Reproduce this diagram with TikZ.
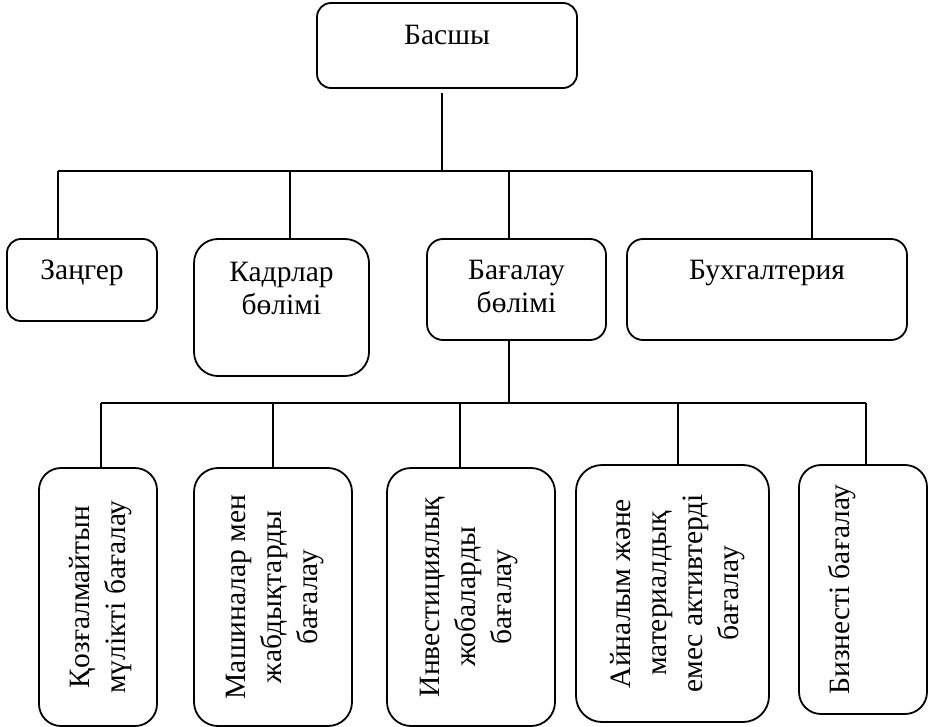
\documentclass[tikz,border=0pt]{standalone}
\usepackage{fontspec}
\setmainfont{Liberation Serif}
\usetikzlibrary{positioning}

\begin{document}
\begin{tikzpicture}[x=1pt, y=-1pt, line width=1.5pt,
		unit/.style={draw, line width=1.8pt, rounded corners=#1, inner sep=0pt},
		unit/.default=14pt,
		htext/.style={inner sep=0pt, align=center, font=\fontsize{29.5}{33}\selectfont},
		vtext/.style={inner sep=0pt, align=center, font=\fontsize{29.5}{36}\selectfont, rotate=90, anchor=north}]
		\useasboundingbox (0,0) rectangle (933,727);

		\node[unit, minimum width=260pt, minimum height=85pt] (head) at (447,45.5) {};
		\node[unit, minimum width=150pt, minimum height=82pt] (lawyer) at (82,280) {};
		\node[unit=24pt, minimum width=175pt, minimum height=137pt] (staff) at (281.5,307.5) {};
		\node[unit=16pt, minimum width=179pt, minimum height=101pt] (appr) at (516.5,289.5) {};
		\node[unit=16pt, minimum width=280pt, minimum height=101pt] (acct) at (767,289.5) {};

		\node[htext, below=22pt of head.north] (headtxt) {Басшы};
		\node[htext, below=21pt of lawyer.north] (lawyertxt) {Заңгер};
		\node[htext, below=23pt of staff.north] (stafftxt) {Кадрлар\\бөлімі};
		\node[htext, below=21pt of appr.north] (apprtxt) {Бағалау\\бөлімі};
		\node[htext, below=21pt of acct.north] (accttxt) {Бухгалтерия};

		\node[unit=22pt, minimum width=118pt, minimum height=258pt] (r1) at (98,597) {};
		\node[unit=24pt, minimum width=158pt, minimum height=258pt] (r2) at (273,597) {};
		\node[unit=24pt, minimum width=168pt, minimum height=258pt] (r3) at (471,597) {};
		\node[unit=26pt, minimum width=193pt, minimum height=257pt] (r4) at (672.5,593.5) {};
		\node[unit=22pt, minimum width=128pt, minimum height=249pt] (r5) at (863,589.5) {};

		\node[vtext] (r1txt) at ([xshift=30pt]r1.west) {Қозғалмайтын\\мүлікті бағалау};
		\node[vtext] (r2txt) at ([xshift=32pt]r2.west) {Машиналар мен\\жабдықтарды\\бағалау};
		\node[vtext] (r3txt) at ([xshift=33pt]r3.west) {Инвестициялық\\жобаларды\\бағалау};
		\node[vtext] (r4txt) at ([xshift=34pt]r4.west) {Айналым және\\материалдық\\емес активтерді\\бағалау};
		\node[vtext] (r5txt) at ([xshift=30pt]r5.west) {Бизнесті бағалау};

		\coordinate (j0) at (442,171);
		\coordinate (j1) at (58,171);
		\coordinate (j2) at (290,171);
		\coordinate (j3) at (509,171);
		\coordinate (j4) at (812,171);

		\draw[shorten <=4pt] (head.south -| j0) -- (j0);
		\draw (j1) -- (j4);
		\draw (j1) -- (j1 |- lawyer.north);
		\draw (j2) -- (j2 |- staff.north);
		\draw (j3) -- (j3 |- appr.north);
		\draw (j4) -- (j4 |- acct.north);

		\coordinate (k0) at (509,404);
		\coordinate (k1) at (101,403);
		\coordinate (k2) at (273,403);
		\coordinate (k3) at (460,403);
		\coordinate (k4) at (678,403);
		\coordinate (k5) at (866,403);

		\draw (appr.south -| k0) -- (k0);
		\draw (k1) -- (k5);
		\draw (k1) -- (k1 |- r1.north);
		\draw (k2) -- (k2 |- r2.north);
		\draw (k3) -- (k3 |- r3.north);
		\draw (k4) -- (k4 |- r4.north);
		\draw (k5) -- (k5 |- r5.north);
	\end{tikzpicture}
\end{document}
